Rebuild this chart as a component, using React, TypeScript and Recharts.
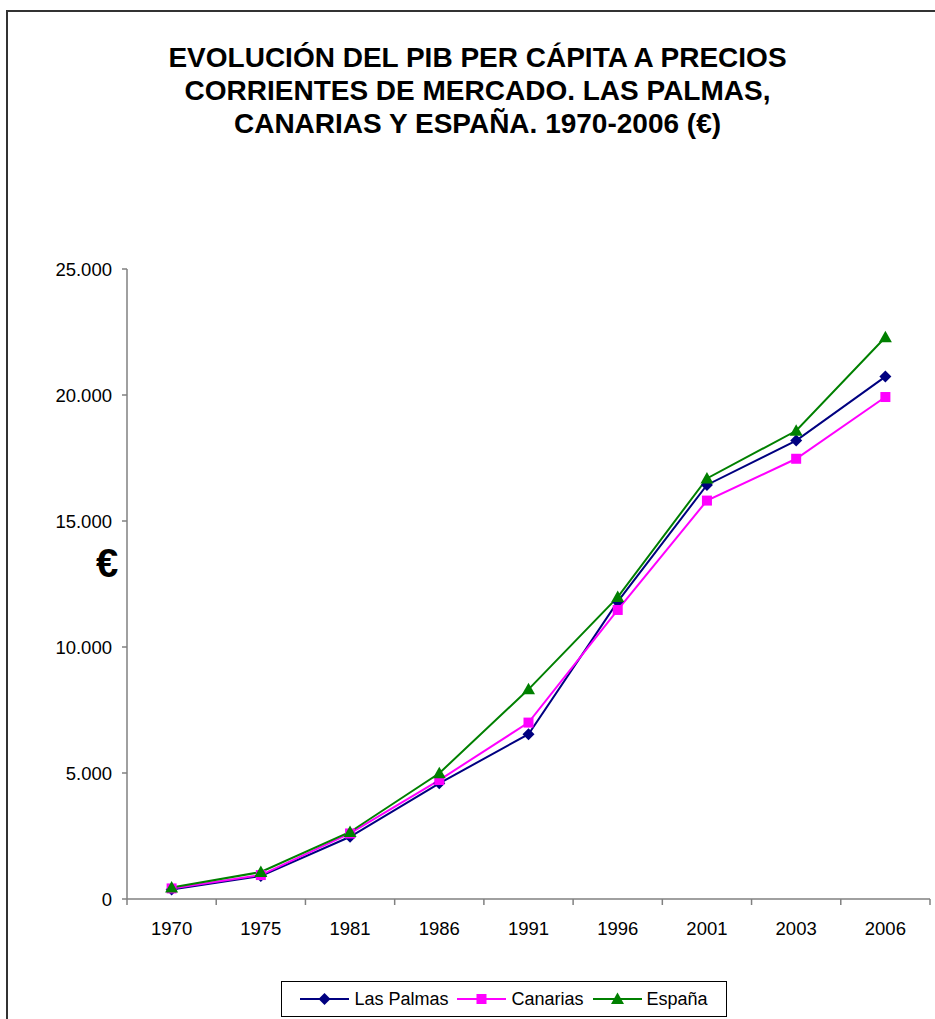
import React from 'react';
import { LineChart, Line, XAxis, YAxis } from 'recharts';

const years = ['1970', '1975', '1981', '1986', '1991', '1996', '2001', '2003', '2006'];
const lasPalmas = [380, 910, 2470, 4590, 6540, 11800, 16430, 18190, 20730];
const canarias = [420, 950, 2600, 4720, 7000, 11470, 15810, 17470, 19920];
const espana = [460, 1070, 2660, 4990, 8320, 11980, 16690, 18580, 22290];
const yTicks = [0, 5000, 10000, 15000, 20000, 25000];

const titleLines = [
    'EVOLUCIÓN DEL PIB PER CÁPITA A PRECIOS',
    'CORRIENTES DE MERCADO. LAS PALMAS,',
    'CANARIAS Y ESPAÑA. 1970-2006 (€)',
];

const data = years.map((year, i) => ({
    year,
    lasPalmas: lasPalmas[i],
    canarias: canarias[i],
    espana: espana[i],
}));

type Shape = 'diamond' | 'square' | 'triangle';

const series: { key: string; name: string; color: string; shape: Shape }[] = [
    { key: 'lasPalmas', name: 'Las Palmas', color: '#000080', shape: 'diamond' },
    { key: 'canarias', name: 'Canarias', color: '#FF00FF', shape: 'square' },
    { key: 'espana', name: 'España', color: '#008000', shape: 'triangle' },
];

const FONT = 'Arial, "Liberation Sans", sans-serif';
const AXIS = '#808080';
const TICK_SIZE = 6;
const TICK_MARGIN = 17;

const Marker = ({ cx, cy, shape, color }: { cx: number; cy: number; shape: Shape; color: string }) => {
    if (shape === 'diamond') {
        return <path d={`M${cx},${cy - 6}L${cx + 6},${cy}L${cx},${cy + 6}L${cx - 6},${cy}Z`} fill={color} />;
    }
    if (shape === 'square') {
        return <rect x={cx - 5} y={cy - 5} width={10} height={10} fill={color} />;
    }
    return <path d={`M${cx},${cy - 6.5}L${cx + 6.5},${cy + 5}L${cx - 6.5},${cy + 5}Z`} fill={color} />;
};

const formatThousands = (v: number) => v.toString().replace(/\B(?=(\d{3})+(?!\d))/g, '.');

// Excel style: tick marks sit between categories, labels at the centre
const YearTick = (props: any) => {
    const { x, y, payload, index } = props;
    const half = payload.offset || 0;
    const y0 = y - TICK_MARGIN - TICK_SIZE;
    return (
        <g>
            <line x1={x - half} y1={y0} x2={x - half} y2={y0 + TICK_SIZE} stroke={AXIS} strokeWidth={1.5} />
            {index === years.length - 1 && (
                <line x1={x + half} y1={y0} x2={x + half} y2={y0 + TICK_SIZE} stroke={AXIS} strokeWidth={1.5} />
            )}
            <text x={x} y={y} dy="0.71em" textAnchor="middle" fill="#000" fontSize={18.5} fontFamily={FONT}>
                {payload.value}
            </text>
        </g>
    );
};

const CustomLegend = () => (
    <div
        style={{
            position: 'absolute',
            left: 281,
            top: 981,
            width: 444,
            height: 34,
            border: '1px solid #000',
            display: 'flex',
            alignItems: 'center',
            justifyContent: 'center',
            fontFamily: FONT,
            fontSize: 18,
            gap: 9,
        }}
    >
        {series.map((s) => (
            <div key={s.key} style={{ display: 'flex', alignItems: 'center', gap: 5 }}>
                <svg width={49} height={14}>
                    <line x1={0} y1={7} x2={49} y2={7} stroke={s.color} strokeWidth={2} />
                    <Marker cx={24.5} cy={7} shape={s.shape} color={s.color} />
                </svg>
                <span>{s.name}</span>
            </div>
        ))}
    </div>
);

const App: React.FC = () => {
    return (
        <div style={{ position: 'relative', width: 935, height: 1019, overflow: 'hidden', background: '#fff' }}>
            <style>{'body{margin:0}'}</style>
            <div
                style={{
                    position: 'absolute',
                    left: 6,
                    top: 10,
                    width: 960,
                    height: 1040,
                    border: '2px solid #333',
                }}
            />
            <div
                style={{
                    position: 'absolute',
                    left: 0,
                    top: 41,
                    width: 955,
                    textAlign: 'center',
                    fontFamily: FONT,
                    fontWeight: 'bold',
                    fontSize: 28,
                    lineHeight: '33px',
                }}
            >
                {titleLines.map((t) => (
                    <div key={t}>{t}</div>
                ))}
            </div>
            <div
                style={{
                    position: 'absolute',
                    left: 96,
                    top: 543,
                    fontFamily: FONT,
                    fontWeight: 'bold',
                    fontSize: 40,
                    lineHeight: 1,
                }}
            >
                €
            </div>
            <div style={{ position: 'absolute', left: 0, top: 0 }}>
                <LineChart width={935} height={1019} data={data} margin={{ top: 269, right: 5, bottom: 80, left: 0 }}>
                    <XAxis
                        dataKey="year"
                        scale="band"
                        tickLine={false}
                        tickSize={TICK_SIZE}
                        tickMargin={TICK_MARGIN}
                        height={40}
                        stroke={AXIS}
                        strokeWidth={1.5}
                        interval={0}
                        tick={<YearTick />}
                    />
                    <YAxis
                        domain={[0, 25000]}
                        ticks={yTicks}
                        width={127}
                        tickSize={5}
                        tickMargin={10}
                        tickFormatter={formatThousands}
                        stroke={AXIS}
                        strokeWidth={1.5}
                        tick={{ fill: '#000', fontSize: 18.5, fontFamily: FONT }}
                    />
                    {series.map((s) => (
                        <Line
                            key={s.key}
                            dataKey={s.key}
                            name={s.name}
                            stroke={s.color}
                            strokeWidth={2}
                            isAnimationActive={false}
                            activeDot={false}
                            dot={(p: any) => (
                                <Marker key={`${s.key}-${p.index}`} cx={p.cx} cy={p.cy} shape={s.shape} color={s.color} />
                            )}
                        />
                    ))}
                </LineChart>
            </div>
            <CustomLegend />
        </div>
    );
};

export default App;
